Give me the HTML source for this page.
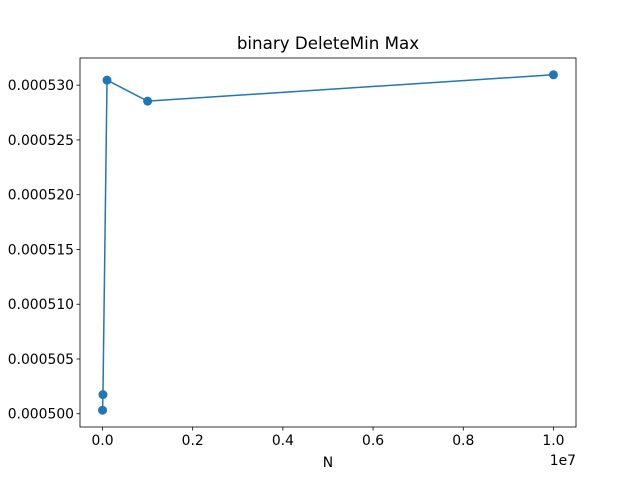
<!DOCTYPE html>
<html><head><meta charset="utf-8"><style>
body{margin:0;background:#fff;font-family:"Liberation Sans","DejaVu Sans",sans-serif}
text{font-family:"DejaVu Sans","Liberation Sans",sans-serif;font-size:13.9px;fill:#000}
</style></head><body>
<svg id="chart" width="640" height="480">
<rect width="640" height="480" fill="#fff"/>
<text x="328" y="49" text-anchor="middle" style="font-size:16.7px">binary DeleteMin Max</text>
<text x="328" y="467" text-anchor="middle">N</text>
<text x="576" y="465" text-anchor="end">1e7</text>
<g id="ticks"></g>
<g id="series"></g>
<rect x="80" y="58" width="496" height="369" fill="none" stroke="#000" stroke-width="0.8"/>
</svg>
<script>
const nValues=[1000,10000,100000,1000000,10000000];
const timeValues=[0.00050032,0.00050175,0.00053046,0.00052854,0.00053095];
const xTicks=[0,0.2e7,0.4e7,0.6e7,0.8e7,1e7];
const xTickLabels=["0.0","0.2","0.4","0.6","0.8","1.0"];
const yTicks=[0.000500,0.000505,0.000510,0.000515,0.000520,0.000525,0.000530];
const yTickLabels=["0.000500","0.000505","0.000510","0.000515","0.000520","0.000525","0.000530"];
const NS="http://www.w3.org/2000/svg";
const L=80,R=576,T=58,B=427;
const xmin0=Math.min(...nValues),xmax0=Math.max(...nValues),xm=(xmax0-xmin0)*0.05;
const ymin0=Math.min(...timeValues),ymax0=Math.max(...timeValues),ym=(ymax0-ymin0)*0.05;
const xs=v=>L+(v-(xmin0-xm))/((xmax0+xm)-(xmin0-xm))*(R-L);
const ys=v=>B-(v-(ymin0-ym))/((ymax0+ym)-(ymin0-ym))*(B-T);
function el(t,a,p){const e=document.createElementNS(NS,t);for(const k in a)e.setAttribute(k,a[k]);p.appendChild(e);return e;}
const tg=document.getElementById('ticks');
xTicks.forEach((v,i)=>{const x=xs(v);
 const l=el('line',{x1:x,x2:x,y1:B,y2:B+3.5,stroke:'#000','stroke-width':0.8},tg);
 
 
 const t=el('text',{x:x,y:B+18,'text-anchor':'middle'},tg);t.textContent=xTickLabels[i];
 
 });
yTicks.forEach((v,i)=>{const y=ys(v);
 const l=el('line',{x1:L-3.5,x2:L,y1:y,y2:y,stroke:'#000','stroke-width':0.8},tg);
 
 
 const t=el('text',{x:L-6,y:y+5,'text-anchor':'end'},tg);t.textContent=yTickLabels[i];
 
 });
const sg=document.getElementById('series');
const pts=nValues.map((n,i)=>xs(n)+','+ys(timeValues[i])).join(' ');
const pl=el('polyline',{points:pts,fill:'none',stroke:'#1f77b4','stroke-width':1.5},sg);


nValues.forEach((n,i)=>{const c=el('circle',{cx:xs(n),cy:ys(timeValues[i]),r:4.5,fill:'#1f77b4'},sg);
 
 });
</script>
</body></html>
